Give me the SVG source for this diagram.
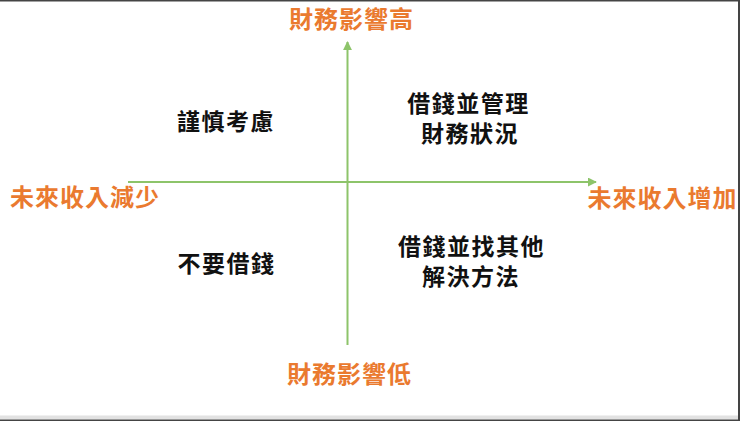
<svg xmlns="http://www.w3.org/2000/svg" width="740" height="421" viewBox="0 0 740 421">
<style>
.ax{fill:#EA7A2F;font-family:"Noto Sans CJK TC","Noto Sans CJK SC",sans-serif;font-size:24px;font-weight:700;text-anchor:middle;letter-spacing:1px}
.q{fill:#111111;font-family:"Noto Sans CJK TC","Noto Sans CJK SC",sans-serif;font-size:23px;font-weight:700;text-anchor:middle;letter-spacing:1.5px}
.axis{stroke:#8DC46A;stroke-width:2;fill:none}
</style>
<defs>
<marker id="arr" viewBox="0 0 10 10" refX="9" refY="5" markerWidth="4.5" markerHeight="4.5" orient="auto" markerUnits="strokeWidth">
<path d="M0,0 L10,5 L0,10 z" fill="#8DC46A"/>
</marker>
</defs>
<rect x="0" y="0" width="740" height="421" fill="#ffffff"/>
<rect x="0" y="0" width="740" height="1.5" fill="#444444"/>
<rect x="738" y="0" width="2" height="421" fill="#444444"/>
<rect x="0" y="415.5" width="738" height="4" fill="#e2e2e2"/>
<rect x="0" y="419.5" width="740" height="1.5" fill="#444444"/>
<g id="connectors">
<line class="axis" x1="347.5" y1="345" x2="347.5" y2="42" marker-end="url(#arr)"/>
<line class="axis" x1="128" y1="182" x2="596" y2="182" marker-end="url(#arr)"/>
</g>
<g id="axis-top"><text class="ax" x="351.5" y="28">財務影響高</text></g>
<g id="axis-bottom"><text class="ax" x="349.5" y="383">財務影響低</text></g>
<g id="axis-left"><text class="ax" x="85" y="206">未來收入減少</text></g>
<g id="axis-right"><text class="ax" x="662.5" y="207">未來收入增加</text></g>
<g id="q-top-left"><text class="q" x="226" y="130">謹慎考慮</text></g>
<g id="q-top-right"><text class="q"><tspan x="468.5" y="112">借錢並管理</tspan><tspan x="470" y="142">財務狀況</tspan></text></g>
<g id="q-bottom-left"><text class="q" x="226.5" y="272">不要借錢</text></g>
<g id="q-bottom-right"><text class="q"><tspan x="471.5" y="255">借錢並找其他</tspan><tspan x="471" y="285">解決方法</tspan></text></g>
</svg>
